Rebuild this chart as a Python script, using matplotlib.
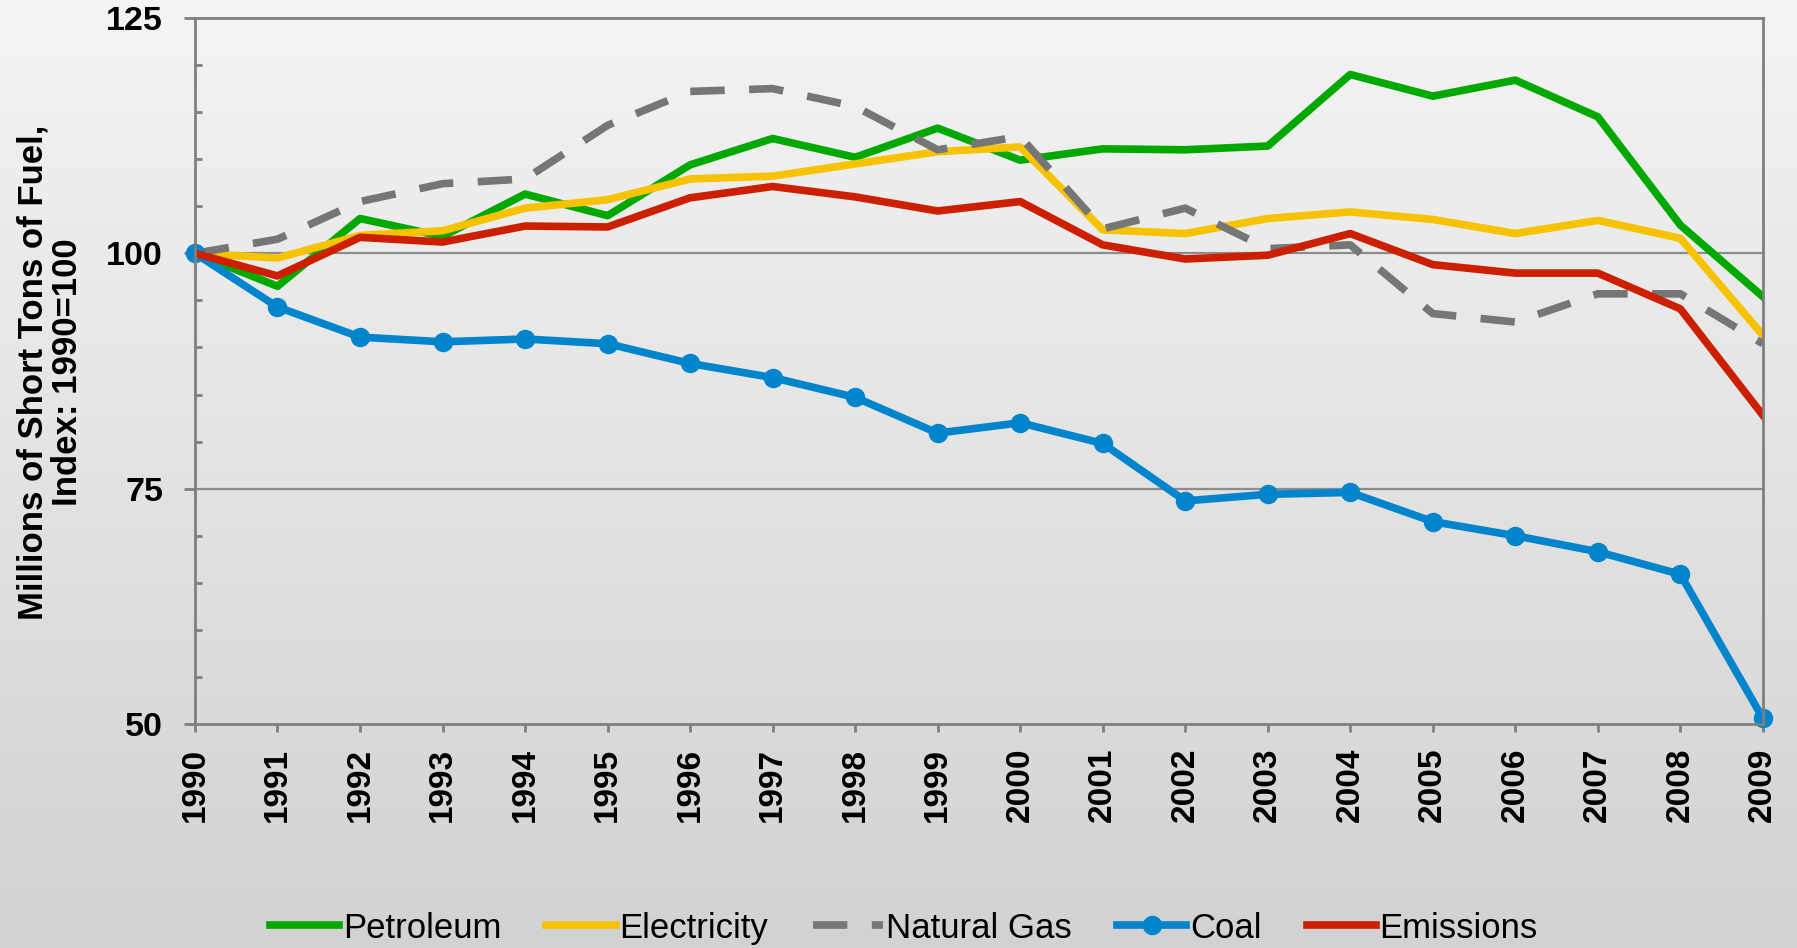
import numpy as np
import matplotlib.pyplot as plt
from matplotlib.ticker import MultipleLocator
from matplotlib.colors import LinearSegmentedColormap

years = list(range(1990, 2010))

petroleum = [100, 96.5, 103.7, 101.8, 106.3, 104.0, 109.4, 112.2, 110.2, 113.3,
             109.9, 111.1, 111.0, 111.4, 119.0, 116.7, 118.4, 114.5, 103.0, 95.4]
electricity = [100, 99.5, 101.9, 102.4, 104.8, 105.7, 107.9, 108.2, 109.5, 110.8,
               111.3, 102.5, 102.1, 103.7, 104.4, 103.6, 102.1, 103.5, 101.6, 91.3]
natural_gas = [100, 101.5, 105.5, 107.4, 107.9, 113.6, 117.2, 117.5, 115.6, 111.0,
               112.4, 102.6, 104.8, 100.5, 100.9, 93.6, 92.7, 95.7, 95.7, 90.4]
coal = [100, 94.3, 91.1, 90.6, 90.9, 90.4, 88.3, 86.8, 84.7, 80.9,
        82.0, 79.8, 73.7, 74.4, 74.6, 71.5, 70.0, 68.3, 65.9, 50.6]
emissions = [100, 97.6, 101.7, 101.2, 102.9, 102.8, 105.9, 107.1, 106.0, 104.5,
             105.5, 100.9, 99.4, 99.8, 102.1, 98.8, 97.9, 97.9, 94.1, 82.8]

plt.rcParams['font.family'] = ['Liberation Sans', 'DejaVu Sans']

fig = plt.figure(figsize=(17.97, 9.48), dpi=100)

# background gradient
bg = fig.add_axes([0, 0, 1, 1], zorder=-1)
grad = np.linspace(0, 1, 256).reshape(-1, 1)
cmap = LinearSegmentedColormap.from_list('bg', ['#f4f4f4', '#d2d2d2'])
bg.imshow(grad, aspect='auto', cmap=cmap, extent=[0, 1, 0, 1], origin='upper')
bg.axis('off')

ax = fig.add_axes([0.1085, 0.2363, 0.8725, 0.7447])
ax.set_facecolor('none')

lw = 5.5
ax.plot(years, petroleum, color='#00a800', lw=lw, label='Petroleum')
ax.plot(years, electricity, color='#f7c200', lw=lw, label='Electricity')
ax.plot(years, natural_gas, color='#767676', lw=lw, label='Natural Gas', dashes=(4.5, 3.2))
ax.plot(years, coal, color='#0085cc', lw=lw, marker='o', markersize=13, label='Coal',
        clip_on=False)
ax.plot(years, emissions, color='#cc1f00', lw=lw, label='Emissions')

ax.set_xlim(1990, 2009)
ax.set_ylim(50, 125)
ax.set_xticks(years)
ax.set_xticklabels([str(y) for y in years], rotation=90, fontsize=24, fontweight='bold')
ax.set_yticks([50, 75, 100, 125])
ax.set_yticklabels(['50', '75', '100', '125'], fontsize=24.5, fontweight='bold')
ax.yaxis.set_minor_locator(MultipleLocator(5))
ax.tick_params(axis='y', which='major', direction='out', length=8, width=2,
               color='#7f7f7f', pad=15)
ax.tick_params(axis='y', which='minor', direction='in', length=5, width=2, color='#7f7f7f')
ax.tick_params(axis='x', which='major', direction='out', length=6, width=2,
               color='#7f7f7f', pad=11)

for y in [75, 100]:
    ax.axhline(y, color='#8c8c8c', lw=1.6, zorder=0)
for s in ax.spines.values():
    s.set_color('#7f7f7f')
    s.set_linewidth(2)

fig.text(0.028, 0.6076, 'Millions of Short Tons of Fuel,\nIndex: 1990=100', fontsize=25,
         fontweight='bold', rotation=90, ha='center', va='center', linespacing=1.05,
         multialignment='center')

fig.legend(loc='center', bbox_to_anchor=(0.503, 0.021), ncol=5, frameon=False,
           fontsize=25, handlelength=2.0, handletextpad=0.1, columnspacing=1.3)

fig.savefig('out.png', dpi=100)
